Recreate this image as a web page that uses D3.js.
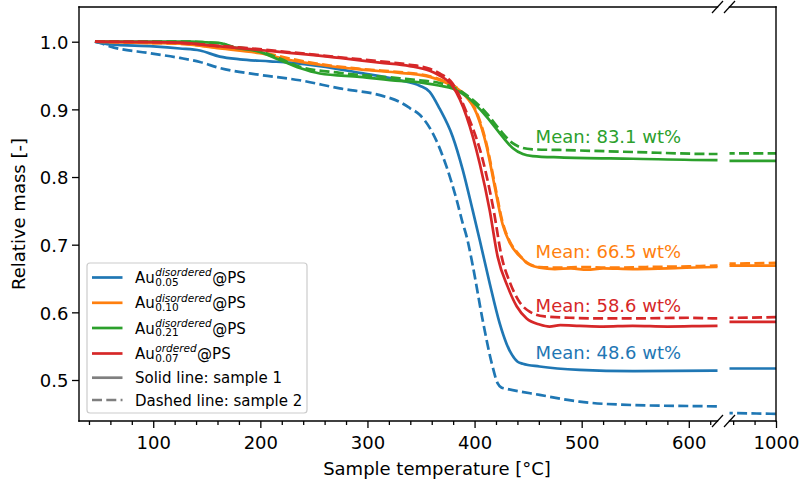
<!DOCTYPE html>
<html lang="en">
<head>
<meta charset="UTF-8">
<title>Relative mass vs sample temperature</title>
<script src="https://d3js.org/d3.v7.min.js"></script>
<style>
  body { margin: 0; background: #fff; }
  svg { font-family: "DejaVu Sans", sans-serif; }
</style>
</head>
<body>
<div id="chart"></div>
<script>
// ---- data: [temperature in degC, relative mass] ----
const au005_s1 = [[45.6,1.000],[59.6,0.996],[100,0.993],[124.9,0.990],[143.6,0.987],[162.2,0.978],[180.9,0.974],[208.8,0.971],[227.5,0.969],[255.5,0.964],[292.8,0.954],[330.1,0.943],[348.8,0.935],[358.1,0.926],[367.4,0.901],[379.5,0.860],[388.9,0.811],[398.2,0.751],[404.8,0.707],[414.1,0.643],[423.4,0.584],[430.0,0.553],[440.2,0.527],[445,0.524],[460.7,0.520],[498,0.515],[547.5,0.513],[625.8,0.514],[660,0.514],[960,0.517],[1000,0.517]];
const au005_s2 = [[45.6,1.000],[50.3,0.998],[59.6,0.993],[96.9,0.983],[124.9,0.976],[143.6,0.970],[162.2,0.961],[199.5,0.951],[236.8,0.943],[274.1,0.931],[311.5,0.921],[330.1,0.911],[339.5,0.902],[348.8,0.892],[360.9,0.865],[373.9,0.815],[383.3,0.766],[388.9,0.732],[392.6,0.712],[398.2,0.670],[407.5,0.589],[416.0,0.525],[421.6,0.495],[425,0.489],[430.0,0.487],[460.7,0.478],[498,0.468],[547.5,0.463],[625.8,0.461],[660,0.460],[960,0.451],[1000,0.450]];
const au010_s1 = [[45.6,1.000],[100,0.998],[124.9,0.997],[162.2,0.990],[199.5,0.983],[227.5,0.973],[255.5,0.966],[292.8,0.959],[330.1,0.954],[348.8,0.951],[358.1,0.948],[373.9,0.939],[388.9,0.924],[401.9,0.894],[411.3,0.845],[418.8,0.786],[426.2,0.730],[432.8,0.703],[440.2,0.686],[444.9,0.679],[448.6,0.673],[460.7,0.666],[475,0.664],[490,0.665],[505,0.663],[520,0.665],[547.5,0.664],[580,0.665],[625.8,0.667],[660,0.667],[960,0.669],[1000,0.669]];
const au010_s2 = [[45.6,1.000],[100,0.998],[124.9,0.997],[162.2,0.991],[199.5,0.985],[227.5,0.975],[255.5,0.967],[292.8,0.960],[330.1,0.955],[348.8,0.952],[358.1,0.949],[373.9,0.940],[388.9,0.925],[401.9,0.896],[411.3,0.848],[418.8,0.790],[426.2,0.733],[432.8,0.705],[440.2,0.688],[448.6,0.674],[460.7,0.667],[480,0.666],[500,0.667],[525,0.666],[560,0.667],[600,0.668],[625.8,0.669],[660,0.669],[960,0.672],[1000,0.673]];
const au021_s1 = [[45.6,1.000],[100,1.000],[134.2,1.000],[150,0.999],[162.2,0.998],[171.5,0.993],[199.5,0.985],[218.2,0.973],[236.8,0.961],[255.5,0.953],[292.8,0.948],[330.1,0.942],[348.8,0.940],[367.4,0.935],[379.5,0.931],[392.6,0.919],[411.3,0.889],[423.4,0.865],[435.5,0.843],[445,0.834],[454.2,0.831],[479.4,0.829],[547.5,0.827],[625.8,0.825],[660,0.825],[960,0.824],[1000,0.824]];
const au021_s2 = [[45.6,1.000],[100,1.000],[134.2,1.000],[150,0.999],[162.2,0.998],[171.5,0.994],[199.5,0.986],[218.2,0.975],[236.8,0.963],[274.1,0.954],[330.1,0.946],[348.8,0.943],[367.4,0.939],[379.5,0.933],[392.6,0.921],[411.3,0.894],[423.4,0.870],[435.5,0.850],[445,0.843],[454.2,0.841],[479.4,0.840],[547.5,0.837],[625.8,0.834],[660,0.834],[960,0.835],[1000,0.835]];
const au007_s1 = [[45.6,1.000],[100,0.9995],[124.9,0.9985],[162.2,0.993],[218.2,0.985],[274.1,0.976],[311.5,0.969],[339.5,0.964],[358.1,0.957],[367.4,0.950],[379.5,0.934],[392.6,0.889],[404.8,0.820],[414.1,0.751],[421.6,0.682],[430.9,0.638],[439.3,0.609],[448.6,0.591],[460.7,0.582],[470,0.579],[480,0.581],[498,0.580],[520,0.579],[547.5,0.580],[580,0.579],[625.8,0.580],[660,0.580],[960,0.586],[1000,0.586]];
const au007_s2 = [[45.6,1.000],[100,0.9995],[162.2,0.994],[218.2,0.986],[274.1,0.977],[311.5,0.971],[339.5,0.966],[358.1,0.960],[367.4,0.953],[379.5,0.938],[392.6,0.895],[408.5,0.820],[417.8,0.751],[425.3,0.682],[432.8,0.645],[442.1,0.615],[451.4,0.601],[465.4,0.594],[488.6,0.592],[520,0.591],[547.5,0.591],[600,0.592],[625.8,0.591],[660,0.591],[960,0.592],[1000,0.593]];

// legend / annotation content
const subs = ["0.05", "0.10", "0.21", "0.07"];
const sups = ["disordered", "disordered", "disordered", "ordered"];
const means = ["48.6", "66.5", "83.1", "58.6"];
const noteY = [0.531, 0.680, 0.851, 0.600];   // where the "Mean" texts sit (data units)
const sampleLabels = ["Solid line: sample 1", "Dashed line: sample 2"];

// ticks
const xMajor = [100, 200, 300, 400, 500, 600];
const xMinor = d3.range(40, 627, 20).filter(v => v % 100 !== 0);
const xMajorRight = [1000];
const xMinorRight = [960, 980];
const yTicks = [0.5, 0.6, 0.7, 0.8, 0.9, 1.0];

const colors = ["#1f77b4", "#ff7f0e", "#2ca02c", "#d62728"];
const series = [
    [au005_s1, au005_s2],
    [au010_s1, au010_s2],
    [au021_s1, au021_s2],
    [au007_s1, au007_s2]
];

const W = 799, H = 480;
const plotTop = 7, plotBottom = 421;
const mainL = 79, mainR = 717.5, rightL = 729.5, rightR = 776;
const FS = 18;
const dash = "10,4.3";

const svg = d3.select("#chart").append("svg")
    .attr("width", W)
    .attr("height", H);

const x1 = d3.scaleLinear().domain([30.7, 626.8]).range([mainL, mainR]);
const x2 = d3.scaleLinear().domain([956.6, 1000]).range([rightL, rightR]);
const y = d3.scaleLinear().domain([0.4394, 1.0513]).range([plotBottom, plotTop]);

const defs = svg.append("defs");
defs.append("clipPath").attr("id", "clipMain")
    .append("rect").attr("x", mainL).attr("y", plotTop)
    .attr("width", mainR - mainL).attr("height", plotBottom - plotTop);
defs.append("clipPath").attr("id", "clipRight")
    .append("rect").attr("x", rightL).attr("y", plotTop)
    .attr("width", rightR - rightL).attr("height", plotBottom - plotTop);

// curves, drawn in both panels
[[x1, "clipMain"], [x2, "clipRight"]].forEach(([xs, clip]) => {
    const line = d3.line()
        .x(d => xs(d[0]))
        .y(d => y(d[1]))
        .curve(d3.curveMonotoneX);
    const g = svg.append("g").attr("clip-path", `url(#${clip})`);
    series.forEach((pair, i) => {
        pair.forEach((data, k) => {
            g.append("path")
                .datum(data)
                .attr("d", line)
                .attr("fill", "none")
                .attr("stroke", colors[i])
                .attr("stroke-width", 2.7)
                .attr("stroke-dasharray", k === 1 ? dash : null);
        });
    });
});

// axes
function styleAxis(g) {
    g.select(".domain").remove();
    g.selectAll(".tick line").attr("stroke", "#000").attr("stroke-width", 1.3);
    g.selectAll(".tick text").attr("fill", "#000")
        .attr("font-size", FS).attr("font-family", "DejaVu Sans");
}

svg.append("g").attr("transform", `translate(0,${plotBottom})`)
    .call(d3.axisBottom(x1).tickValues(xMajor).tickSize(7).tickPadding(8).tickFormat(d3.format("d")))
    .call(styleAxis);
svg.append("g").attr("transform", `translate(0,${plotBottom})`)
    .call(d3.axisBottom(x1).tickValues(xMinor).tickSize(4).tickFormat(""))
    .call(styleAxis);
svg.append("g").attr("transform", `translate(0,${plotBottom})`)
    .call(d3.axisBottom(x2).tickValues(xMajorRight).tickSize(7).tickPadding(8).tickFormat(d3.format("d")))
    .call(styleAxis);
svg.append("g").attr("transform", `translate(0,${plotBottom})`)
    .call(d3.axisBottom(x2).tickValues(xMinorRight).tickSize(4).tickFormat(""))
    .call(styleAxis);
svg.append("g").attr("transform", `translate(${mainL},0)`)
    .call(d3.axisLeft(y).tickValues(yTicks).tickSize(7).tickPadding(3.5).tickFormat(d3.format(".1f")))
    .call(styleAxis)
    .selectAll(".tick text").attr("dy", "0.37em");

// spines
const spines = [
    [mainL, plotTop, mainL, plotBottom], [mainL, plotTop, mainR, plotTop], [mainL, plotBottom, mainR, plotBottom],
    [rightL, plotTop, rightR, plotTop], [rightR, plotTop, rightR, plotBottom], [rightL, plotBottom, rightR, plotBottom]
];
svg.selectAll("line.spine").data(spines).enter().append("line")
    .attr("class", "spine")
    .attr("x1", d => d[0]).attr("y1", d => d[1])
    .attr("x2", d => d[2]).attr("y2", d => d[3])
    .attr("stroke", "#000").attr("stroke-width", 1.4)
    .attr("stroke-linecap", "square");

// break marks
[mainR, rightL].forEach(cx => {
    [plotTop, plotBottom].forEach(cy => {
        svg.append("line")
            .attr("x1", cx - 5.5).attr("y1", cy + 6)
            .attr("x2", cx + 5.5).attr("y2", cy - 6)
            .attr("stroke", "#000").attr("stroke-width", 1.2);
    });
});

// axis labels
svg.append("text")
    .attr("x", 437).attr("y", 475)
    .attr("text-anchor", "middle")
    .attr("font-size", FS)
    .text("Sample temperature [°C]");
svg.append("text")
    .attr("transform", `translate(25,${(plotTop + plotBottom) / 2}) rotate(-90)`)
    .attr("text-anchor", "middle")
    .attr("font-size", FS)
    .text("Relative mass [-]");

// mean annotations
means.forEach((m, i) => {
    svg.append("text")
        .attr("x", x1(457)).attr("y", y(noteY[i]))
        .attr("fill", colors[i])
        .attr("font-size", FS)
        .text(`Mean: ${m} wt%`);
});

// legend
const lg = svg.append("g");
lg.append("rect")
    .attr("x", 87).attr("y", 263).attr("width", 220).attr("height", 150)
    .attr("rx", 3)
    .attr("fill", "#fff").attr("fill-opacity", 0.8)
    .attr("stroke", "#cccccc").attr("stroke-width", 1.2);

const rowY = [277.5, 302.8, 328, 353.5, 377.7, 400];
const LFS = 15, SFS = 10.5;

subs.forEach((s, i) => {
    const yy = rowY[i];
    lg.append("line")
        .attr("x1", 92).attr("x2", 122.5).attr("y1", yy).attr("y2", yy)
        .attr("stroke", colors[i]).attr("stroke-width", 2.7);
    const base = yy + 5.5;
    const au = lg.append("text").attr("x", 135).attr("y", base)
        .attr("font-size", LFS).text("Au");
    const xs = 135 + au.node().getComputedTextLength() + 0.5;
    // superscript and subscript stacked at the same x, like mathtext
    const sp = lg.append("text").attr("x", xs).attr("y", base - 6.6)
        .attr("font-size", SFS).attr("font-style", "italic").text(sups[i]);
    const sb = lg.append("text").attr("x", xs).attr("y", base + 2.6)
        .attr("font-size", SFS).text(s);
    const w = Math.max(sp.node().getComputedTextLength(), sb.node().getComputedTextLength());
    lg.append("text").attr("x", xs + w + 0.5).attr("y", base)
        .attr("font-size", LFS).text("@PS");
});

sampleLabels.forEach((t, k) => {
    const yy = rowY[4 + k];
    lg.append("line")
        .attr("x1", 92).attr("x2", 122.5).attr("y1", yy).attr("y2", yy)
        .attr("stroke", "#7f7f7f").attr("stroke-width", 2.7)
        .attr("stroke-dasharray", k === 1 ? dash : null);
    lg.append("text").attr("x", 135).attr("y", yy + 5.5)
        .attr("font-size", LFS).text(t);
});
</script>
</body>
</html>
